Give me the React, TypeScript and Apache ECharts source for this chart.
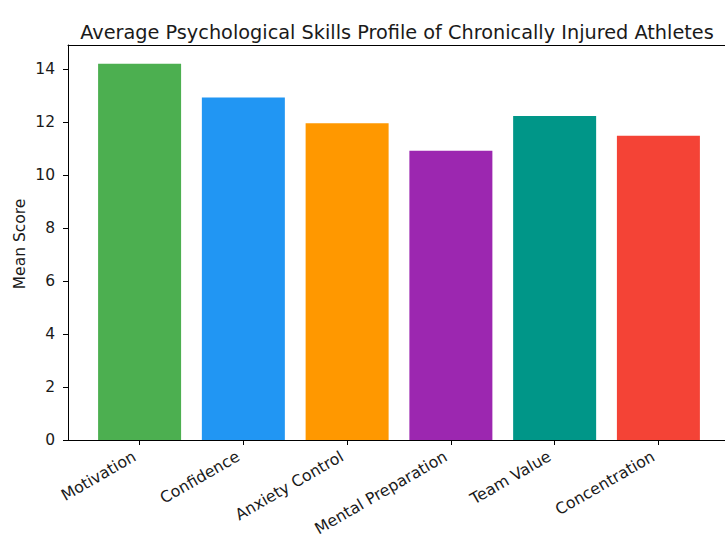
import React, { useEffect, useRef } from "react";
import * as echarts from "echarts";

const categories = ["Motivation", "Confidence", "Anxiety Control", "Mental Preparation", "Team Value", "Concentration"];
const meanScores = [14.2, 12.93, 11.96, 10.92, 12.23, 11.48];
const barColors = ["#4CAF50", "#2196F3", "#FF9800", "#9C27B0", "#009688", "#F44336"];
const yTicks = [0, 2, 4, 6, 8, 10, 12, 14];
const xTicks = [0, 1, 2, 3, 4, 5];

export default function App() {
  const ref = useRef<HTMLDivElement>(null);
  useEffect(() => {
    document.body.style.margin = "0";
    document.body.style.overflow = "hidden";
    const chart = echarts.init(ref.current!, null, { renderer: "svg" });
    const font = "DejaVu Sans";
    chart.setOption({
      animation: false,
      backgroundColor: "#ffffff",
      title: {
        text: "Average Psychological Skills Profile of Chronically Injured Athletes",
        left: 392,
        top: 18,
        textAlign: "center",
        textStyle: { fontFamily: font, fontSize: 19.3, fontWeight: "normal", color: "#1a1a1a" },
      },
      graphic: [
        {
          type: "text",
          x: 20,
          y: 244,
          rotation: Math.PI / 2,
          style: {
            text: "Mean Score",
            align: "center",
            verticalAlign: "middle",
            fontFamily: font,
            fontSize: 15.5,
            fill: "#1a1a1a",
          },
        },
      ],
      grid: { left: 68, right: -5, top: 45, bottom: 96, containLabel: false, outerBoundsMode: "none" },
      xAxis: [
        {
          type: "value",
          min: -0.69,
          max: 5.69,
          splitLine: { show: false },
          axisLine: { show: true, onZero: false, lineStyle: { color: "#000", width: 1 } },
          axisTick: { show: true, length: 5, lineStyle: { color: "#000" }, customValues: xTicks },
          axisLabel: {
            customValues: xTicks,
            formatter: (v: number) => categories[Math.round(v)] ?? "",
            rotate: 30,
            fontFamily: font,
            fontSize: 15.8,
            color: "#1a1a1a",
            margin: 12,
            padding: [0, 6, 0, 0],
          },
        },
        {
          type: "value",
          position: "top",
          min: -0.69,
          max: 5.69,
          splitLine: { show: false },
          axisLine: { show: true, onZero: false, lineStyle: { color: "#000", width: 1 } },
          axisTick: { show: false },
          axisLabel: { show: false },
        },
      ],
      yAxis: {
        type: "value",
        min: 0,
        max: 14.91,
        splitLine: { show: false },
        axisLine: { show: true, onZero: false, lineStyle: { color: "#000", width: 1 } },
        axisTick: { show: true, length: 5, lineStyle: { color: "#000" }, customValues: yTicks },
        axisLabel: { customValues: yTicks, fontFamily: font, fontSize: 15.5, color: "#1a1a1a", margin: 13 },
      },
      series: [
        {
          type: "bar",
          xAxisIndex: 0,
          barWidth: 83,
          data: meanScores.map((v, i) => ({ value: [i, v], itemStyle: { color: barColors[i] } })),
        },
      ],
    });
    return () => chart.dispose();
  }, []);
  return <div ref={ref} style={{ width: 725, height: 536 }} />;
}
